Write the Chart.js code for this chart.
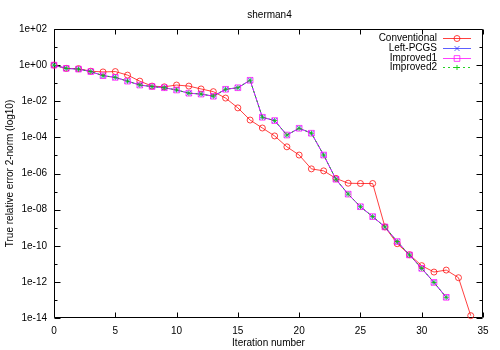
<!DOCTYPE html>
<html>
<head>
<meta charset="utf-8">
<script src="https://cdn.jsdelivr.net/npm/chart.js@4"></script>
<style>
  html, body { margin: 0; padding: 0; background: #fff; }
</style>
</head>
<body>
<canvas id="chart" width="500" height="350"></canvas>
<script>
// residual history for sherman4
const iterations = [0, 1, 2, 3, 4, 5, 6, 7, 8, 9, 10, 11, 12, 13, 14, 15, 16, 17, 18, 19, 20,
  21, 22, 23, 24, 25, 26, 27, 28, 29, 30, 31, 32, 33, 34];

const conventional = [1e0, 6.6e-1, 6.4e-1, 4.6e-1, 4.2e-1, 4.4e-1, 2.8e-1, 1.3e-1, 6.9e-2, 6.3e-2,
  7.9e-2, 6.9e-2, 4.8e-2, 3.4e-2, 1.5e-2, 4.3e-3, 9.1e-4, 3.3e-4, 1.2e-4, 3.0e-5,
  1.05e-5, 1.8e-6, 1.4e-6, 5.4e-7, 2.9e-7, 2.8e-7, 2.8e-7, 1.1e-9, 1.3e-10, 3.2e-11,
  7.9e-12, 3.5e-12, 4.5e-12, 1.7e-12, 1.35e-14];

const leftPCGS = [1e0, 6.6e-1, 6.0e-1, 4.4e-1, 2.6e-1, 2.1e-1, 1.3e-1, 7.9e-2, 6.5e-2, 5.6e-2,
  4.2e-2, 2.8e-2, 2.5e-2, 1.9e-2, 4.6e-2, 5.6e-2, 1.45e-1, 1.3e-3, 8.5e-4, 1.35e-4,
  3.2e-4, 1.7e-4, 1.05e-5, 4.8e-7, 7.2e-8, 1.45e-8, 4.1e-9, 1.1e-9, 1.7e-10, 3.1e-11,
  5.6e-12, 9.3e-13, 1.4e-13];

const improved1 = [1e0, 6.6e-1, 6.0e-1, 4.4e-1, 2.6e-1, 2.1e-1, 1.3e-1, 7.9e-2, 6.5e-2, 5.6e-2,
  4.2e-2, 2.8e-2, 2.5e-2, 1.9e-2, 4.6e-2, 5.6e-2, 1.45e-1, 1.3e-3, 8.5e-4, 1.35e-4,
  3.2e-4, 1.7e-4, 1.05e-5, 4.8e-7, 7.2e-8, 1.45e-8, 4.1e-9, 1.1e-9, 1.7e-10, 3.1e-11,
  5.6e-12, 9.3e-13, 1.4e-13];

const improved2 = [1e0, 6.6e-1, 6.0e-1, 4.4e-1, 2.6e-1, 2.1e-1, 1.3e-1, 7.9e-2, 6.5e-2, 5.6e-2,
  4.2e-2, 2.8e-2, 2.5e-2, 1.9e-2, 4.6e-2, 5.6e-2, 1.45e-1, 1.3e-3, 8.5e-4, 1.35e-4,
  3.2e-4, 1.7e-4, 1.05e-5, 4.8e-7, 7.2e-8, 1.45e-8, 4.1e-9, 1.1e-9, 1.7e-10, 3.1e-11,
  5.6e-12, 9.3e-13, 1.4e-13];

const yTickValues = [1e-14, 1e-13, 1e-12, 1e-11, 1e-10, 1e-9, 1e-8, 1e-7, 1e-6, 1e-5, 1e-4,
  1e-3, 1e-2, 1e-1, 1e0, 1e1, 1e2];

const FONT = '"Liberation Sans", Arial, sans-serif';

function toPoints(vals) {
  return vals.map((v, i) => ({ x: iterations[i], y: v }));
}

function expLabel(v) {
  const e = Math.round(Math.log10(v));
  if (e % 2 !== 0) return '';
  const s = e < 0 ? '-' : '+';
  const a = Math.abs(e);
  return '1e' + s + (a < 10 ? '0' + a : a);
}

const series = [
  { label: 'Conventional', data: conventional, color: 'rgba(255,0,0,0.75)', style: 'circle', radius: 3, dash: [] },
  { label: 'Left-PCGS', data: leftPCGS, color: 'rgba(40,40,255,0.75)', style: 'crossRot', radius: 3.5, dash: [] },
  { label: 'Improved1', data: improved1, color: 'rgba(255,0,255,0.75)', style: 'rect', radius: 4, dash: [] },
  { label: 'Improved2', data: improved2, color: 'rgba(0,200,0,0.85)', style: 'cross', radius: 2.5, dash: [2, 3] }
];

// gnuplot-like frame, inward ticks, title and key
const gnuplotFrame = {
  id: 'gnuplotFrame',
  beforeDatasetsDraw(chart) {
    const ctx = chart.ctx;
    const a = chart.chartArea;
    const L = Math.round(a.left) + 0.5, R = Math.round(a.right) - 0.5;
    const T = Math.round(a.top) + 0.5, B = Math.round(a.bottom) - 0.5;
    ctx.save();
    ctx.strokeStyle = '#000';
    ctx.lineWidth = 1;
    ctx.beginPath();
    ctx.rect(L, T, R - L, B - T);
    const xs = chart.scales.x, ys = chart.scales.y;
    xs.ticks.forEach(t => {
      const px = Math.round(xs.getPixelForValue(t.value)) + 0.5;
      ctx.moveTo(px, B); ctx.lineTo(px, B - 5);
      ctx.moveTo(px, T); ctx.lineTo(px, T + 5);
    });
    ys.ticks.forEach(t => {
      const py = Math.round(ys.getPixelForValue(t.value)) + 0.5;
      const len = expLabel(t.value) ? 6 : 3;
      ctx.moveTo(L, py); ctx.lineTo(L + len, py);
      ctx.moveTo(R, py); ctx.lineTo(R - len, py);
    });
    ctx.stroke();

    ctx.fillStyle = '#000';
    ctx.font = '10px ' + FONT;
    ctx.textAlign = 'center';
    ctx.textBaseline = 'middle';
    ctx.fillText('sherman4', (a.left + a.right) / 2 + 1, 15);
    ctx.restore();
  },
  afterDatasetsDraw(chart) {
    const ctx = chart.ctx;
    ctx.save();
    ctx.font = '10px ' + FONT;
    ctx.textAlign = 'right';
    ctx.textBaseline = 'middle';
    series.forEach((s, i) => {
      const y = Math.round(38 + i * 9.8) + 0.5;
      ctx.fillStyle = '#000';
      ctx.fillText(s.label, 437, y);
      ctx.strokeStyle = s.color;
      ctx.lineWidth = 1;
      ctx.setLineDash(s.dash);
      ctx.beginPath();
      ctx.moveTo(443, y); ctx.lineTo(471, y);
      ctx.stroke();
      ctx.setLineDash([]);
      ctx.fillStyle = 'rgba(0,0,0,0)';
      Chart.helpers.drawPoint(ctx, { pointStyle: s.style, radius: s.radius, rotation: 0, borderWidth: 1 }, 457, y);
    });
    ctx.restore();
  }
};

new Chart(document.getElementById('chart'), {
  type: 'line',
  data: {
    datasets: series.map((s, i) => ({
      label: s.label,
      data: toPoints(s.data),
      borderColor: s.color,
      backgroundColor: 'rgba(0,0,0,0)',
      borderWidth: 1,
      borderDash: s.dash,
      pointStyle: s.style,
      pointRadius: s.radius,
      pointBorderWidth: 1,
      pointBorderColor: s.color,
      pointBackgroundColor: 'rgba(0,0,0,0)',
      tension: 0,
      fill: false,
      clip: false,
      order: series.length - i
    }))
  },
  options: {
    responsive: false,
    animation: false,
    events: [],
    layout: { padding: { left: 0, right: 17, top: 29, bottom: 0 } },
    plugins: {
      legend: { display: false },
      title: { display: false },
      tooltip: { enabled: false }
    },
    scales: {
      x: {
        type: 'linear',
        min: 0,
        max: 35,
        grid: { display: false, drawTicks: false },
        border: { display: false },
        ticks: { stepSize: 5, color: '#000', font: { family: FONT, size: 10 }, padding: 7, maxRotation: 0 },
        title: { display: true, text: 'Iteration number', color: '#000', font: { family: FONT, size: 10 }, padding: { top: 0, bottom: 1 } },
        afterFit(scale) { scale.height = 32; }
      },
      y: {
        type: 'logarithmic',
        min: 1e-14,
        max: 1e2,
        grid: { display: false, drawTicks: false },
        border: { display: false },
        afterBuildTicks(scale) { scale.ticks = yTickValues.map(v => ({ value: v })); },
        ticks: { color: '#000', font: { family: FONT, size: 10 }, padding: 7, autoSkip: false, callback: v => expLabel(v) },
        title: { display: true, text: 'True relative error 2-norm (log10)', color: '#000', font: { family: FONT, size: 10 }, padding: 4 },
        afterFit(scale) { scale.width = 54; }
      }
    }
  },
  plugins: [gnuplotFrame]
});
</script>
</body>
</html>
